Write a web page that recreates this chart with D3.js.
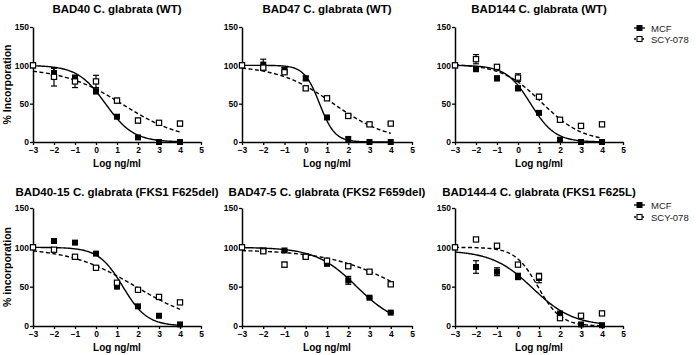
<!DOCTYPE html>
<html><head><meta charset="utf-8">
<script src="https://cdn.jsdelivr.net/npm/d3@7"></script>
<style>body{margin:0;background:#fff}svg{display:block}</style>
</head><body>
<svg id="c" width="696" height="355"></svg>
<script>
const doses = [-3, -2, -1, 0, 1, 2, 3, 4];
const xTicks = [-3, -2, -1, 0, 1, 2, 3, 4, 5];
const yTicks = [0, 50, 100, 150];
const panelTitles = [
  "BAD40 C. glabrata (WT)",
  "BAD47 C. glabrata (WT)",
  "BAD144 C. glabrata (WT)",
  "BAD40-15 C. glabrata (FKS1 F625del)",
  "BAD47-5 C. glabrata (FKS2 F659del)",
  "BAD144-4 C. glabrata (FKS1 F625L)"
];
const yLabels = ["% Incorporation", "% incorporation"];
const seriesNames = ["MCF", "SCY-078"];

// MCF means and error per panel (dose order -3..4)
const mcfMean = [
  [100, 90, 83, 66, 33, 6, 0, 0],
  [100, 101, 94, 83, 32, 4, 0, 0],
  [100, 95, 83, 70, 38, 3, 0, 0],
  [100, 108, 106, 92, 50, 25, 13, 2],
  [100, 96, 96, 88, 79, 58, 36, 17],
  [100, 75, 69, 63, 61, 15, 2, 1]
];
const mcfErr = [
  [0, 6, 4, 3, 1, 0, 0, 0],
  [0, 7, 3, 3, 1, 0, 0, 0],
  [0, 3, 3, 3, 1, 1, 0, 0],
  [0, 0, 0, 2, 0, 0, 0, 0],
  [0, 1, 1, 1, 1, 5, 1, 1],
  [0, 8, 5, 4, 6, 4, 0, 0]
];
// SCY-078 means and error per panel
const scyMean = [
  [100, 85, 79, 79, 54, 28, 25, 24],
  [100, 97, 91, 70, 57, 34, 23, 24],
  [100, 108, 98, 84, 59, 29, 21, 23],
  [100, 97, 88, 74, 55, 46, 37, 30],
  [100, 95, 78, 88, 83, 76, 69, 53],
  [100, 110, 102, 78, 63, 10, 13, 16]
];
const scyErr = [
  [0, 12, 8, 8, 3, 3, 2, 3],
  [0, 3, 2, 2, 2, 2, 2, 1],
  [0, 6, 2, 5, 3, 1, 1, 1],
  [0, 2, 0, 0, 2, 0, 0, 0],
  [0, 1, 3, 1, 1, 1, 1, 1],
  [0, 0, 0, 2, 3, 0, 0, 0]
];
// Fitted dose-response parameters per panel: [top, bottom, logIC50, hill]
const mcfFit = [
  [100, 0, 0.45, 0.65],
  [100, 0, 0.65, 1.2],
  [100, 0, 0.6, 0.75],
  [100, 0, 1.28, 0.75],
  [100, 0, 2.4, 0.45],
  [96, 0, 0.7, 0.45]
];
const scyFit = [
  [97, 0, 1.3, 0.3],
  [100, 0, 1.3, 0.33],
  [102, 0, 1.15, 0.45],
  [100, 0, 1.9, 0.27],
  [97, 0, 4.6, 0.25],
  [100, 0, 0.95, 0.8]
];

const svg = d3.select("#c");
const font = "'Liberation Sans', Arial, sans-serif";
const cols = [[33, 201], [242, 412], [455, 623]];
const rows = [[142, 27], [326, 208]];
const titleY = [13, 196];

function fourPL(p, x) {
  const [top, bottom, ic, h] = p;
  return bottom + (top - bottom) / (1 + Math.pow(10, (x - ic) * h));
}

panelTitles.forEach((title, i) => {
  const r = Math.floor(i / 3), c = i % 3;
  const x = d3.scaleLinear().domain([-3, 5]).range(cols[c]);
  const y = d3.scaleLinear().domain([0, 150]).range(rows[r]);
  const g = svg.append("g");

  // axes
  const xa = g.append("g").attr("transform", `translate(0,${rows[r][0]})`)
    .call(d3.axisBottom(x).tickValues(xTicks).tickSize(3).tickSizeOuter(0).tickPadding(2));
  const ya = g.append("g").attr("transform", `translate(${cols[c][0]},0)`)
    .call(d3.axisLeft(y).tickValues(yTicks).tickSize(3).tickSizeOuter(0).tickPadding(1));
  [xa, ya].forEach(a => {
    a.select(".domain").attr("stroke", "#000").attr("stroke-width", 1.5);
    a.selectAll(".tick line").attr("stroke", "#000").attr("stroke-width", 1.3);
    a.selectAll("text").attr("font-family", font).attr("font-size", 8.5)
      .attr("font-weight", "bold").attr("fill", "#000");
  });

  // title
  g.append("text").attr("x", (cols[c][0] + cols[c][1]) / 2).attr("y", titleY[r])
    .attr("text-anchor", "middle").attr("font-family", font).attr("font-size", 11.5)
    .attr("font-weight", "bold").text(title);
  // x label
  g.append("text").attr("x", (cols[c][0] + cols[c][1]) / 2).attr("y", rows[r][0] + 25)
    .attr("text-anchor", "middle").attr("font-family", font).attr("font-size", 10)
    .attr("font-weight", "bold").text("Log ng/ml");
  if (c === 0) {
    const cy = (rows[r][0] + rows[r][1]) / 2;
    g.append("text").attr("transform", `translate(11,${cy}) rotate(-90)`)
      .attr("text-anchor", "middle").attr("font-family", font).attr("font-size", 10.5)
      .attr("font-weight", "bold").text(yLabels[r]);
  }

  // fitted curves
  const xs = d3.range(-3, 4.0001, 0.05);
  const line = d3.line().x(d => x(d[0])).y(d => y(d[1])).curve(d3.curveLinear);
  g.append("path").datum(xs.map(v => [v, fourPL(scyFit[i], v)]))
    .attr("d", line).attr("fill", "none").attr("stroke", "#000")
    .attr("stroke-width", 1.4).attr("stroke-dasharray", "4,2.5");
  g.append("path").datum(xs.map(v => [v, fourPL(mcfFit[i], v)]))
    .attr("d", line).attr("fill", "none").attr("stroke", "#000").attr("stroke-width", 1.4);

  // error bars + markers
  function drawSeries(means, errs, filled) {
    means.forEach((m, k) => {
      const e = errs[k];
      const px = x(doses[k]);
      if (e > 0) {
        g.append("line").attr("x1", px).attr("x2", px).attr("y1", y(m - e)).attr("y2", y(m + e))
          .attr("stroke", "#000").attr("stroke-width", 1.2);
        [m - e, m + e].forEach(v => g.append("line").attr("x1", px - 3).attr("x2", px + 3)
          .attr("y1", y(v)).attr("y2", y(v)).attr("stroke", "#000").attr("stroke-width", 1.2));
      }
      if (filled) {
        g.append("rect").attr("x", px - 3).attr("y", y(m) - 3).attr("width", 6).attr("height", 6)
          .attr("fill", "#000");
      } else {
        g.append("rect").attr("x", px - 2.6).attr("y", y(m) - 2.6).attr("width", 5.2).attr("height", 5.2)
          .attr("fill", "#fff").attr("stroke", "#000").attr("stroke-width", 1.2);
      }
    });
  }
  drawSeries(mcfMean[i], mcfErr[i], true);
  drawSeries(scyMean[i], scyErr[i], false);

  // legend
  if (c === 2) {
    const ly = r === 0 ? [28, 39] : [205, 217];
    seriesNames.forEach((name, k) => {
      const lg = svg.append("g").attr("transform", `translate(634,${ly[k]})`);
      lg.append("line").attr("x1", 0).attr("x2", 11).attr("y1", 0).attr("y2", 0)
        .attr("stroke", "#000").attr("stroke-width", 1.3)
        .attr("stroke-dasharray", k === 1 ? "2,2" : null);
      if (k === 0) lg.append("rect").attr("x", 2.5).attr("y", -3).attr("width", 6).attr("height", 6).attr("fill", "#000");
      else lg.append("rect").attr("x", 3).attr("y", -2.5).attr("width", 5).attr("height", 5)
        .attr("fill", "#fff").attr("stroke", "#000").attr("stroke-width", 1.1);
      lg.append("text").attr("x", 17).attr("y", 3.5).attr("font-family", font)
        .attr("font-size", 9.5).attr("fill", "#222").text(name);
    });
  }
});
</script>
</body></html>
